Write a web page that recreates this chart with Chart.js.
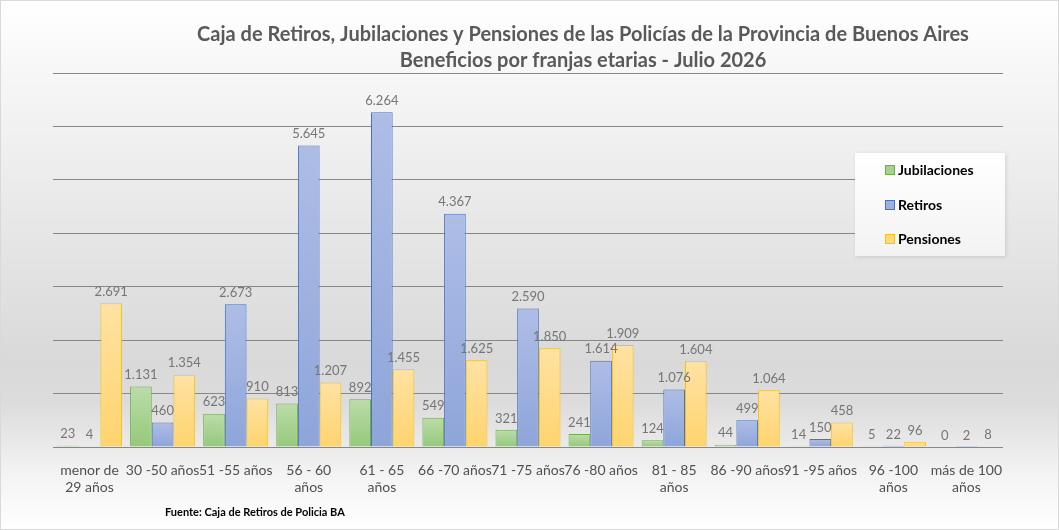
<!DOCTYPE html>
<html>
<head>
<meta charset="utf-8">
<script src="https://cdn.jsdelivr.net/npm/chart.js@4.4.1/dist/chart.umd.min.js"></script>
<style>
html,body{margin:0;padding:0;background:#fff;}
canvas{display:block;}
</style>
</head>
<body>
<canvas id="c" width="1059" height="530"></canvas>
<script>
const categories = [["menor de","29 años"],"30 -50 años","51 -55 años",["56 - 60","años"],["61 - 65","años"],"66 -70 años","71 -75 años","76 -80 años",["81 - 85","años"],"86 -90 años","91 -95 años",["96 -100","años"],["más de 100","años"]];
const jubilaciones = [23,1131,623,813,892,549,321,241,124,44,14,5,0];
const retiros = [4,460,2673,5645,6264,4367,2590,1614,1076,499,150,22,2];
const pensiones = [2691,1354,910,1207,1455,1625,1850,1909,1604,1064,458,96,8];
const titleLines = ["Caja de Retiros, Jubilaciones y Pensiones de las Policías de la Provincia de Buenos Aires","Beneficios por franjas etarias - Julio 2026"];
const sourceText = "Fuente: Caja de Retiros de Policia BA";

const FONT = "Lato, 'Open Sans', sans-serif";
function fmt(v){return String(v).replace(/\B(?=(\d{3})+(?!\d))/g,".");}

function barGradient(top, bottom){
  return function(ctx){
    const chart = ctx.chart;
    if(!chart.chartArea || ctx.type!=='data') return top;
    const y = chart.scales.y;
    const v = ctx.raw;
    const yTop = y.getPixelForValue(v);
    const yBot = y.getPixelForValue(0);
    if(!(yBot-yTop>1)) return top;
    const g = chart.ctx.createLinearGradient(0,yTop,0,yBot);
    g.addColorStop(0,top); g.addColorStop(1,bottom);
    return g;
  };
}

const bgPlugin = {
  id:'bg',
  beforeDraw(chart){
    const c = chart.ctx, W = chart.width, H = chart.height;
    const g = c.createLinearGradient(0,0,0,H);
    g.addColorStop(0,'#ffffff');
    g.addColorStop(0.15,'#f6f6f6');
    g.addColorStop(0.68,'#d9d9d9');
    g.addColorStop(0.76,'#dcdcdc');
    g.addColorStop(0.9,'#f4f4f4');
    g.addColorStop(1,'#ffffff');
    c.save(); c.fillStyle=g; c.fillRect(0,0,W,H); c.restore();
  },
  afterDraw(chart){
    const c = chart.ctx, W = chart.width, H = chart.height;
    c.save();
    // title
    c.fillStyle='#595959'; c.textAlign='center'; c.textBaseline='middle';
    c.font = "bold 20px "+FONT;
    c.fillText(titleLines[0],583,35);
    c.fillText(titleLines[1],583,61);
    // source
    c.fillStyle='#000'; c.textAlign='left';
    c.font = "bold 11px "+FONT;
    c.fillText(sourceText,165,512);
    // legend
    const bx=855, by=153, bw=150, bh=103;
    c.shadowColor='rgba(0,0,0,0.12)'; c.shadowBlur=4; c.shadowOffsetX=1; c.shadowOffsetY=1;
    c.fillStyle='#ffffff'; c.fillRect(bx,by,bw,bh);
    c.shadowColor='transparent';
    const lg = c.createLinearGradient(0,by,0,by+bh);
    lg.addColorStop(0,'#ffffff'); lg.addColorStop(1,'#f3f3f3');
    c.fillStyle=lg; c.fillRect(bx,by,bw,bh);
    const ys=[170,205,239];
    chart.data.datasets.forEach((ds,i)=>{
      c.fillStyle=ds.legendFill; c.fillRect(885,ys[i]-5,10,10);
      c.strokeStyle=ds.borderColor; c.lineWidth=1; c.strokeRect(885.5,ys[i]-4.5,9,9);
      c.fillStyle='#000'; c.font="bold 14px "+FONT; c.textAlign='left';
      c.fillText(ds.label,898,ys[i]);
    });
    // border
    c.strokeStyle='#d9d9d9'; c.lineWidth=1; c.strokeRect(0.5,0.5,W-1,H-1);
    c.restore();
  }
};

const labelPlugin = {
  id:'vlabels',
  afterDatasetsDraw(chart){
    const c = chart.ctx;
    c.save();
    c.fillStyle='#767676'; c.font="13px "+FONT; c.textAlign='center'; c.textBaseline='bottom';
    chart.data.datasets.forEach((ds,i)=>{
      const meta = chart.getDatasetMeta(i);
      meta.data.forEach((el,j)=>{
        c.fillText(fmt(ds.data[j]), el.x, el.y-5);
      });
    });
    c.restore();
  }
};

new Chart(document.getElementById('c'),{
  type:'bar',
  data:{
    labels:categories,
    datasets:[
      {label:'Jubilaciones',data:jubilaciones,backgroundColor:barGradient('#bcdcaa','#94c97a'),borderColor:'#70ad47',legendFill:'#a9d18e',borderWidth:1},
      {label:'Retiros',data:retiros,backgroundColor:barGradient('#aebde6','#8ea5da'),borderColor:'#4472c4',legendFill:'#9db0e0',borderWidth:1},
      {label:'Pensiones',data:pensiones,backgroundColor:barGradient('#ffe2a3','#ffd46e'),borderColor:'#ffc000',legendFill:'#ffd980',borderWidth:1}
    ]
  },
  options:{
    responsive:false,
    animation:false,
    devicePixelRatio:1,
    layout:{padding:{top:73,left:53,right:56,bottom:0}},
    datasets:{bar:{categoryPercentage:0.89,barPercentage:1.0}},
    plugins:{legend:{display:false},title:{display:false},tooltip:{enabled:false}},
    scales:{
      x:{
        grid:{display:false},
        border:{display:false},
        ticks:{color:'#505050',font:{family:FONT,size:14},padding:7,maxRotation:0,autoSkip:false},
        afterFit(s){s.height=83;}
      },
      y:{
        min:0,max:7000,
        ticks:{display:false,stepSize:1000},
        grid:{color:'#888888',lineWidth:1,drawTicks:false},
        border:{display:false},
        afterFit(s){s.width=0;}
      }
    }
  },
  plugins:[bgPlugin,labelPlugin]
});
</script>
</body>
</html>
